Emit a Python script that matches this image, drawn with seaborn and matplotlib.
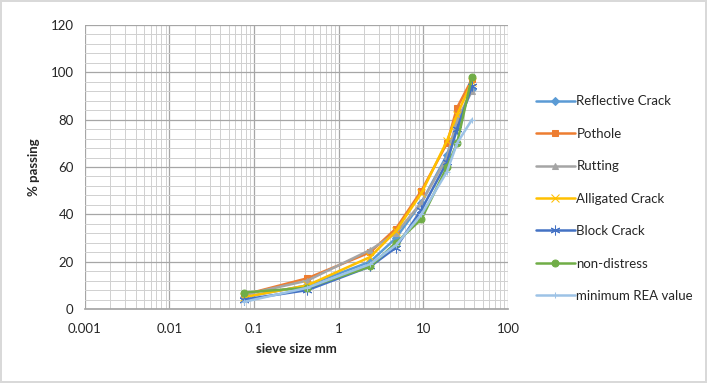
import matplotlib
matplotlib.use("Agg")
import matplotlib.pyplot as plt
import matplotlib.ticker as mticker
import numpy as np
import pandas as pd
import seaborn as sns

# sieve sizes (mm) and % passing for each sample
sieve_mm = [0.075, 0.425, 2.36, 4.75, 9.5, 19, 25, 37.5]
reflective_crack = [5, 10, 20, 30, 45, 65, 78, 93]
pothole = [6, 13, 24, 34, 50, 70, 85, 97]
rutting = [6, 12, 25, 32, 45, 64, 80, 92]
alligated_crack = [5, 10, 22, 33, 49, 71, 82, 96]
block_crack = [4, 8, 18, 26, 42, 62, 76, 94]
non_distress = [7, 9, 18, 28, 38, 60, 70, 98]
minimum_rea = [3, 9, 19, 27, 40, 58, 70, 80]

series_names = ["Reflective Crack", "Pothole", "Rutting", "Alligated Crack",
                "Block Crack", "non-distress", "minimum REA value"]
series_values = [reflective_crack, pothole, rutting, alligated_crack,
                 block_crack, non_distress, minimum_rea]

colors = ["#5B9BD5", "#ED7D31", "#A5A5A5", "#FFC000", "#4472C4", "#70AD47", "#9DC3E6"]
markers = ["D", "s", "^", "x", (6, 2, 0), "o", "+"]
sizes = [4, 5, 5, 6, 7, 5, 5]

df = pd.DataFrame({
    "sieve": np.tile(sieve_mm, len(series_names)),
    "passing": np.concatenate(series_values),
    "sample": np.repeat(series_names, len(sieve_mm)),
})

sns.set_theme(style="white")
plt.rcParams["font.family"] = ["Lato", "DejaVu Sans"]

fig = plt.figure(figsize=(7.07, 3.83), dpi=100)
fig.patch.set_edgecolor("#D9D9D9")
fig.patch.set_linewidth(1.5)
ax = fig.add_axes([0.120, 0.193, 0.5985, 0.742])

for name, vals, c, m, s in zip(series_names, series_values, colors, markers, sizes):
    sub = df[df["sample"] == name]
    sns.lineplot(data=sub, x="sieve", y="passing", ax=ax, color=c, marker=m,
                 markersize=s, markeredgecolor=c, linewidth=1.8, label=name,
                 estimator=None, sort=False)

ax.set_xscale("log")
ax.set_xlim(0.001, 100)
ax.set_ylim(0, 120)
ax.set_yticks(range(0, 121, 20))
ax.yaxis.set_minor_locator(mticker.MultipleLocator(4))
ax.xaxis.set_minor_locator(mticker.LogLocator(base=10, subs=np.arange(2, 10), numticks=100))
ax.xaxis.set_minor_formatter(mticker.NullFormatter())
ax.set_xticks([0.001, 0.01, 0.1, 1, 10, 100])
ax.set_xticklabels(["0.001", "0.01", "0.1", "1", "10", "100"])

ax.grid(which="major", color="#A6A6A6", linewidth=0.9)
ax.grid(which="minor", color="#D0D0D0", linewidth=0.7)
ax.set_axisbelow(True)
for side in ["top", "right", "left"]:
    ax.spines[side].set_visible(False)
ax.spines["bottom"].set_color("#A6A6A6")
ax.tick_params(axis="x", which="major", length=4, color="#A6A6A6", labelsize=9.5, pad=6)
ax.tick_params(axis="x", which="minor", length=0)
ax.tick_params(axis="y", which="both", length=0, labelsize=9.5, pad=8)

ax.set_xlabel("sieve size mm", fontsize=9.5, fontweight="bold", labelpad=6)
ax.set_ylabel("% passing", fontsize=9.5, fontweight="bold", labelpad=8)

handles, labels = ax.get_legend_handles_labels()
ax.get_legend().remove()
fig.legend(handles, labels, loc="upper left", bbox_to_anchor=(0.750, 0.765),
           frameon=False, fontsize=9.5, labelspacing=1.55, handlelength=3.0,
           handletextpad=0.1, borderaxespad=0)

fig.savefig("out.png", dpi=100)
